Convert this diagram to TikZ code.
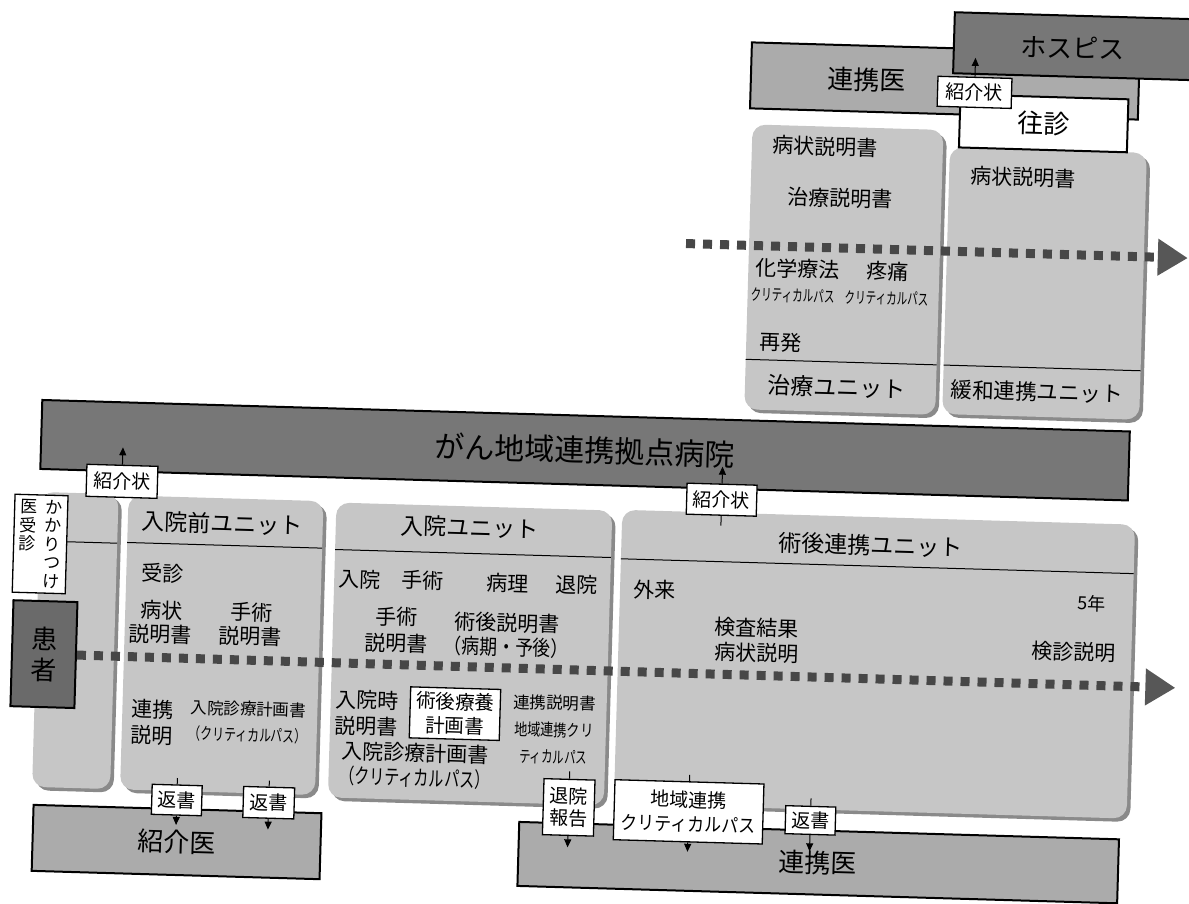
\documentclass[tikz,border=0pt]{standalone}
\usepackage{fontspec}
\usepackage{graphicx}
\setmainfont{Noto Sans CJK JP}
\usetikzlibrary{arrows.meta,shadows}

\definecolor{unitgray}{HTML}{C6C6C6}
\definecolor{unitedge}{HTML}{8A8A8A}
\definecolor{docgray}{HTML}{ABABAB}
\definecolor{hospgray}{HTML}{777777}
\definecolor{patgray}{HTML}{6A6A6A}
\definecolor{dotgray}{HTML}{474747}
\definecolor{tipgray}{HTML}{575757}

\newcommand{\fsz}[2]{\fontsize{#1}{#2}\selectfont}
\newcommand{\nrw}[2]{\scalebox{#1}[1]{#2}}

\tikzset{
  unitbox/.style={fill=unitgray, rounded corners=13pt, inner sep=0pt,
    drop shadow={shadow xshift=3.5pt, shadow yshift=-3.5pt, fill=unitedge, opacity=1}},
  docbox/.style={draw=black, line width=2pt, fill=docgray, inner sep=0pt, font=\fsz{26}{30}},
  darkbox/.style={draw=black, line width=2pt, fill=hospgray, inner sep=0pt},
  tagbox/.style={draw=black, line width=1.3pt, fill=white, inner sep=0pt, align=center, font=\fsz{19}{23}},
  txt/.style={inner sep=0pt, align=center, font=\fsz{21}{24}},
  unittitle/.style={inner sep=0pt, font=\fsz{23}{25}},
  sepline/.style={line width=1pt},
  flowline/.style={draw=dotgray, line width=9pt, dash pattern=on 9pt off 8pt,
    -{Triangle[length=30pt, width=35pt, color=tipgray]}},
  handover/.style={line width=1pt, -{Triangle[length=8pt, width=7pt]}},
  tick/.style={line width=1pt},
}

\begin{document}
\begin{tikzpicture}[x=1pt,y=-1pt]
\useasboundingbox (0,0) rectangle (1189,904);
\clip (0,0) rectangle (1189,904);
\begin{scope}[rotate around={-1.66:(595,452)}, transform shape]
% Top row: doctors, hospice and the two late units
\node[docbox, minimum width=388pt, minimum height=66pt] (doctop) at (934,71) {};
\node[txt, font=\fsz{26}{30}] (doctoptext) at (856,72) {連携医};
\node[darkbox, minimum width=258pt, minimum height=61pt] (hospice) at (1071,32.5) {};
\node[txt, font=\fsz{26}{30}] (hospicetext) at (1061,34) {ホスピス};
\node[unitbox, minimum width=191pt, minimum height=285pt] (cure) at (838.5,262.5) {};
\node[unitbox, minimum width=197pt, minimum height=267pt] (palli) at (1039.5,270.5) {};
\node[draw=black, line width=2pt, fill=white, inner sep=0pt, minimum width=168pt,
  minimum height=53pt, font=\fsz{26}{30}] (visit) at (1034,110.5) {往診};
\node[tagbox, minimum width=74pt, minimum height=30pt] (reftop) at (964,81.5) {紹介状};
\coordinate (reftoptip) at (964,47);
\draw[handover] (reftop.north) -- (reftoptip);
% Texts of the treatment unit
\node[txt] (cure1) at (816,140) {病状説明書};
\node[txt] (cure2) at (833,191) {治療説明書};
\node[txt] (cure3) at (792,263) {化学療法};
\node[txt] (cure4) at (882,263) {疼痛};
\node[txt, font=\fsz{16}{18}] (cure5) at (788,290) {\nrw{0.66}{クリティカルパス}};
\node[txt, font=\fsz{16}{18}] (cure6) at (882,290) {\nrw{0.66}{クリティカルパス}};
\node[txt] (cure7) at (777,337) {再発};
\draw[sepline] (743,355) -- (934,355);
\node[unittitle] (curetitle) at (835,380) {治療ユニット};
% Texts of the palliative unit
\node[txt] (palli1) at (1015,165) {病状説明書};
\draw[sepline] (941,355) -- (1138,355);
\node[unittitle, font=\fsz{21.5}{24}] (pallititle) at (1035,379) {緩和連携ユニット};
% Upper time line
\coordinate (flowAstart) at (680,241);
\coordinate (flowAend) at (1182,241);
\draw[flowline] (flowAstart) -- (flowAend);

% Hospital bar
\node[darkbox, minimum width=1088pt, minimum height=69pt, font=\fsz{30}{32}] (hosp) at (585,450.5) {がん地域連携拠点病院};

% Lower row of units
\node[unitbox, minimum width=78pt, minimum height=295pt] (gp) at (81,655.5) {};
\node[unitbox, minimum width=195pt, minimum height=294pt] (pre) at (227.5,656) {};
\node[unitbox, minimum width=276pt, minimum height=295pt] (adm) at (476,657.5) {};
\node[unitbox, minimum width=513pt, minimum height=294pt] (post) at (880.5,656) {};
\draw[sepline] (42,557) -- (120,557);
\draw[sepline] (130,556) -- (325,556);
\draw[sepline] (338,557) -- (614,557);
\draw[sepline] (624,558) -- (1137,558);
\node[unittitle] (pretitle) at (224,534) {入院前ユニット};
\node[unittitle] (admtitle) at (472,531) {入院ユニット};
\node[unittitle] (posttitle) at (873,537) {術後連携ユニット};
% Family doctor and patient
\node[tagbox, minimum width=53pt, minimum height=98pt, font=\fsz{17}{18.5}] (gptag) at (43,560)
  {\parbox[t]{17pt}{\centering 医\\受\\診}\hspace{8pt}\parbox[t]{17pt}{\centering か\\か\\り\\つ\\け}};
\node[darkbox, fill=patgray, minimum width=64pt, minimum height=106pt, align=center,
  font=\fsz{26}{31}] (pat) at (50,670) {患\\者};
% Texts before admission
\node[txt] (pre1) at (166,586) {受診};
\node[txt] (pre2) at (166,634.6) {病状\\説明書};
\node[txt] (pre3) at (256,634) {手術\\説明書};
\node[txt, font=\fsz{21}{26}] (pre4) at (160,735) {連携\\説明};
\node[txt, font=\fsz{16.5}{26}] (pre5) at (256,732) {入院診療計画書\\\nrw{0.72}{（クリティカルパス）}};
% Texts during admission
\node[txt] (adm1) at (363,586) {入院};
\node[txt] (adm2) at (426,585) {手術};
\node[txt] (adm3) at (512,585.5) {病理};
\node[txt] (adm4) at (581,585.5) {退院};
\node[txt, font=\fsz{21}{26}] (adm5) at (401.5,635.7) {手術\\説明書};
\node[txt] (adm6) at (512,637.5) {術後説明書\\\nrw{0.85}{（病期・予後）}};
\node[txt, font=\fsz{21}{26}] (adm7) at (374.5,719.6) {入院時\\説明書};
\node[tagbox, minimum width=90pt, minimum height=51pt, font=\fsz{19.5}{24}] (plan) at (462.6,717.6) {術後療養\\計画書};
\node[txt, font=\fsz{16.5}{27}] (adm8) at (562,731) {連携説明書\\\nrw{0.8}{地域連携クリ}\\\nrw{0.69}{ティカルパス}};
\node[txt, font=\fsz{21}{25}] (adm9) at (424,770.5) {入院診療計画書\\\nrw{0.72}{（クリティカルパス）}};
% Texts after surgery
\node[txt] (post1) at (659,588) {外来};
\node[txt, font=\fsz{21}{25}] (post2) at (762,635.5) {検査結果\\病状説明};
\node[txt, font=\fsz{18}{20}] (post3) at (1096,589) {5年};
\node[txt] (post4) at (1079,638) {検診説明};
% Lower time line
\coordinate (flowBend) at (1182,671);
\draw[flowline] (pat.east) -- (flowBend);

% Receiving doctors
\node[docbox, minimum width=288pt, minimum height=66pt] (refdoc) at (188,854) {紹介医};
\node[docbox, minimum width=600pt, minimum height=64pt] (linkdoc) at (830,856) {連携医};

% Letters between the units and the doctors
\node[tagbox, minimum width=71pt, minimum height=32pt] (refleft) at (123,495) {紹介状};
\coordinate (reflefttip) at (123,461);
\draw[handover] (refleft.north) -- (reflefttip);
\node[tagbox, minimum width=70pt, minimum height=31pt] (refmid) at (723,496) {紹介状};
\coordinate (refmidtip) at (723,463);
\coordinate (refmidfoot) at (723,522);
\draw[handover] (refmid.north) -- (refmidtip);
\draw[tick] (refmid.south) -- (refmidfoot);
\node[tagbox, minimum width=50pt, minimum height=30pt] (reply1) at (187,812) {返書};
\node[tagbox, minimum width=51pt, minimum height=31pt] (reply2) at (279,812) {返書};
\node[tagbox, minimum width=51pt, minimum height=56pt, font=\fsz{19}{22}] (dischg) at (579,808) {退院\\報告};
\node[tagbox, minimum width=149pt, minimum height=60pt, font=\fsz{19}{24}] (lpath) at (699,809) {地域連携\\\nrw{0.89}{クリティカルパス}};
\node[tagbox, minimum width=50pt, minimum height=28pt] (reply3) at (821,814) {返書};
\coordinate (reply1top) at (187,790);
\coordinate (reply2top) at (279,790);
\coordinate (dischgtop) at (579,772);
\coordinate (lpathtop) at (699,772);
\coordinate (reply3top) at (821,792);
\coordinate (reply1tip) at (187,837);
\coordinate (reply2tip) at (279,839);
\coordinate (dischgtip) at (579,848);
\coordinate (lpathtip) at (699,849);
\coordinate (reply3tip) at (821,845);
\foreach \t in {reply1,reply2,dischg,lpath,reply3} {
  \draw[tick] (\t top) -- (\t.north);
  \draw[handover] (\t.south) -- (\t tip);
}
\end{scope}
\end{tikzpicture}
\end{document}
